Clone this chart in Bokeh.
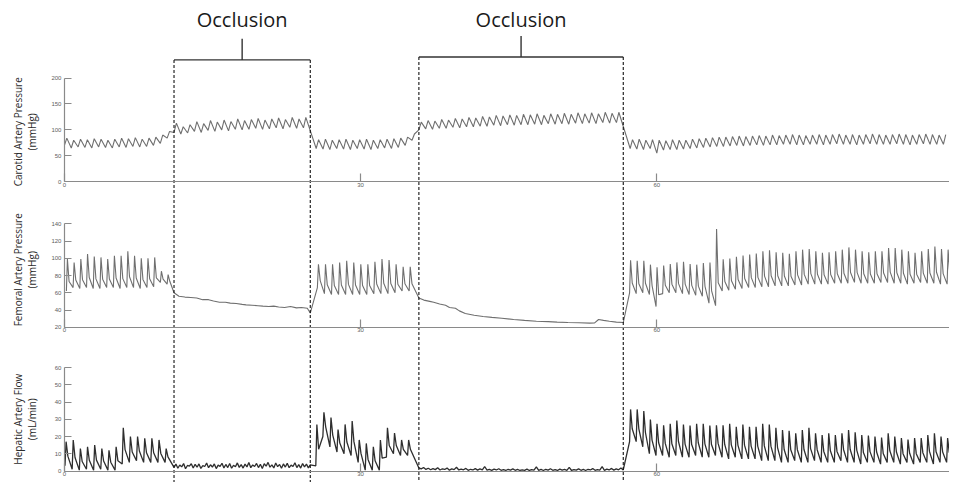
import numpy as np
from bokeh.plotting import figure
from bokeh.models import Range1d, LinearAxis, FixedTicker
from bokeh.core.properties import value
from bokeh.embed import file_html
from bokeh.resources import INLINE

# ---------------- data ----------------
occl_start = [11.1, 35.9]
occl_end = [24.9, 56.6]
occl_text = ["Occlusion", "Occlusion"]

x_ticks = [0, 30, 60, 90]
car_ticks = [0, 50, 100, 150, 200]
fem_ticks = [20, 40, 60, 80, 100, 120, 140]
hep_ticks = [0, 10, 20, 30, 40, 50, 60]

titles = ["Carotid Artery Pressure\n(mmHg)",
          "Femoral Artery Pressure\n(mmHg)",
          "Hepatic Artery Flow\n(mL/min)"]

# Carotid artery pressure (mmHg): beat peaks / troughs per segment
car_pre_span = (0.0, 11.1)
car_pre_peaks = [84, 80, 82, 81, 83, 82, 80, 82, 84, 83, 85, 82, 84, 86, 90, 97]
car_pre_troughs = [70, 65, 67, 66, 65, 67, 66, 65, 67, 66, 68, 67, 68, 70, 74, 84]
car_occ1_span = (11.1, 24.9)
car_occ1_peaks = [113, 106, 110, 116, 112, 118, 115, 119, 116, 121, 118, 120, 122, 119, 121, 123, 120, 124, 121, 124]
car_occ1_troughs = [95, 92, 94, 97, 95, 99, 97, 100, 98, 101, 100, 101, 103, 101, 102, 104, 102, 105, 103, 104]
car_mid_span = (25.5, 35.9)
car_mid_peaks = [81, 82, 80, 81, 82, 80, 81, 82, 80, 81, 82, 83, 84, 86, 92]
car_mid_troughs = [64, 63, 62, 64, 63, 62, 64, 63, 62, 64, 65, 64, 66, 70, 80]
car_occ2_span = (35.9, 56.6)
car_occ2_peaks = [115, 118, 117, 120, 119, 122, 121, 124, 123, 126, 125, 128, 127, 129, 128,
                  130, 129, 131, 128, 131, 130, 132, 130, 133, 131, 133, 131, 134, 132, 134]
car_occ2_troughs = [100, 102, 101, 103, 103, 105, 104, 106, 106, 107, 107, 109, 108, 110, 109,
                    110, 110, 111, 110, 112, 111, 112, 111, 113, 112, 113, 112, 114, 113, 114]
car_post_span = (57.3, 89.7)
car_post_peaks = [81, 82, 80, 81, 80, 79, 81, 80, 80, 82, 83, 84, 85, 86, 86, 87, 88, 87, 88, 89,
                  88, 90, 89, 90, 91, 90, 89, 90, 91, 90, 91, 92, 90, 91, 90, 91, 92, 91, 90, 91,
                  92, 91, 90, 91, 92, 91, 90, 91]
car_post_troughs = [64, 63, 62, 64, 55, 61, 62, 62, 63, 64, 65, 66, 67, 68, 68, 69, 70, 69, 70, 71,
                    70, 71, 71, 72, 72, 71, 71, 72, 72, 71, 72, 73, 72, 72, 71, 72, 73, 72, 72, 72,
                    73, 72, 71, 72, 73, 72, 72, 72]

# Femoral artery pressure (mmHg)
fem_pre_span = (0.2, 11.08)
fem_pre_peaks = [99, 95, 99, 105, 102, 101, 99, 103, 103, 108, 103, 100, 100, 101, 85, 81]
fem_pre_troughs = [62, 66, 65, 66, 65, 65, 66, 66, 65, 66, 66, 65, 66, 67, 72, 70]
fem_occ1_t = [11.1, 11.6, 12.2, 12.8, 13.4, 14.0, 14.6, 15.1, 15.7, 16.3, 16.8, 17.4, 18.0,
              18.4, 19.0, 19.6, 20.1, 20.7, 21.2, 21.7, 22.3, 22.9, 23.5, 24.0, 24.6, 24.9]
fem_occ1_v = [60, 56, 55, 54.5, 54, 52, 52, 50.5, 49, 49, 48, 47.5, 46.5,
              46, 45.5, 45, 44.5, 44, 44.5, 43.5, 43, 44, 42.5, 43, 42, 36.5]
fem_mid_span = (25.62, 35.63)
fem_mid_peaks = [93, 93, 93, 95, 97, 95, 93, 93, 96, 99, 98, 93, 90, 90]
fem_mid_troughs = [66, 59, 58, 58, 58, 58, 58, 58, 59, 59, 59, 60, 62, 62]
fem_occ2_t = [35.9, 36.4, 37.0, 37.4, 38.0, 38.6, 39.0, 39.6, 40.0, 40.6, 41.5, 42.4, 43.3, 44.3,
              45.5, 46.6, 47.8, 49.0, 49.9, 51.0, 52.1, 53.2, 53.7, 54.1, 54.6, 55.2, 55.9, 56.6]
fem_occ2_v = [54, 51.5, 50, 48.9, 47, 45.5, 43, 42, 39, 36, 34, 32.5, 31.5, 30.5,
              29, 28, 27, 26.5, 26, 25.5, 25.2, 24.8, 25, 29, 28, 27, 26, 25.5]
fem_post_span = (57.24, 90.07)
fem_post_peaks = [97.8, 97.0, 97.0, 92.6, 89.6, 91.5, 93.3, 95.2, 95.9, 93.3, 92.6, 94.4, 95.2,
                  134.0, 98.9, 99.6, 101.8, 103.3, 104.4, 105.6, 108.1, 109.2, 107.0, 106.3,
                  105.2, 108.1, 110.0, 110.7, 108.1, 106.3, 107.0, 108.1, 110.0, 112.6, 110.0,
                  108.1, 107.0, 108.1, 108.1, 111.9, 111.9, 110.0, 108.1, 106.3, 108.1, 110.7,
                  113.7, 110.7, 110.0]
fem_post_troughs = [60, 59, 60, 58, 44, 59, 60, 60, 59, 58, 57, 56, 48, 45, 62, 63, 64, 65, 66, 66,
                    67, 67, 68, 68, 68, 69, 69, 70, 70, 70, 70, 71, 71, 71, 72, 71, 71, 71, 72, 72,
                    71, 71, 70, 71, 72, 71, 71, 70, 70]

# Hepatic artery flow (mL/min)
hep_pre_span = (0.06, 10.92)
hep_pre_peaks = [17, 18, 13, 14, 15, 13, 12, 14, 25, 20, 20, 19, 19, 18, 13]
hep_pre_troughs = [3, 1, 0.5, 1, 0.5, 1, 0.5, 0.5, 4, 5, 6, 5, 5, 5, 5]
hep_occ1_span = (11.1, 24.9)
hep_occ1_v = [2.1, 4.0, 1.6, 3.5, 2.4, 4.3, 1.3, 3.2, 2.8, 4.2, 1.7, 3.9, 2.2, 4.1, 1.5, 3.1, 2.6,
              4.6, 1.9, 3.6, 2.3, 4.1, 1.4, 3.4, 2.7, 4.5, 1.8, 3.8, 2.0, 4.3, 1.6, 3.3, 2.5, 4.7,
              2.1, 3.7, 1.7, 4.0, 2.4, 4.9, 1.9, 3.5, 2.6, 4.4, 2.0, 3.9, 1.5, 4.2, 2.8, 5.0, 2.2,
              3.6, 1.8, 4.6, 2.5, 3.8, 1.6, 4.1, 2.3, 4.5, 1.9, 3.4, 2.6, 4.8, 2.0, 3.7, 1.7, 4.3,
              2.4, 4.0, 1.8, 3.6]
hep_mid_span = (25.46, 35.47)
hep_mid_peaks = [27, 34, 31, 24, 27, 29, 18, 16, 14, 18, 25, 22, 18, 18]
hep_mid_troughs = [3, 20, 14, 11, 10, 9, 5, 0.5, 0.5, 0.5, 8, 10, 9, 9]
hep_occ2_span = (35.9, 56.6)
hep_occ2_v = [1.8, 1.2, 2.0, 0.9, 1.6, 0.7, 1.4, 0.8, 1.9, 0.6, 1.3, 0.9, 1.7, 0.5, 1.2, 0.8, 2.2,
              0.6, 1.1, 0.7, 1.5, 0.4, 1.0, 0.6, 1.4, 0.5, 1.2, 0.7, 2.6, 0.5, 0.9, 0.4, 1.1, 0.6,
              1.3, 0.4, 0.8, 0.3, 1.0, 0.5, 1.2, 0.4, 0.9, 0.3, 0.7, 0.4, 1.1, 0.3, 0.8, 0.5, 2.4,
              0.4, 0.9, 0.3, 1.0, 0.5, 1.3, 0.4, 0.8, 0.3, 1.1, 0.5, 0.9, 0.4, 2.1, 0.3, 0.8, 0.5,
              1.2, 0.4, 0.9, 0.3, 1.0, 0.6, 1.4, 0.4, 0.8, 0.5, 2.5, 0.4, 1.1, 0.6, 1.5, 0.5, 1.2,
              0.7, 1.8, 0.6]
hep_post_span = (57.24, 90.02)
hep_post_peaks = [35.7, 35.7, 34.8, 29.8, 27.4, 26.5, 27.4, 29.3, 27.0, 26.3, 27.4, 27.4, 26.3,
                  26.5, 26.5, 27.4, 25.6, 27.0, 25.6, 25.6, 27.4, 27.0, 25.0, 23.7, 23.3, 21.9,
                  23.7, 25.0, 21.9, 20.9, 21.9, 20.9, 21.9, 23.7, 22.4, 20.9, 20.6, 20.0, 19.4,
                  21.9, 20.0, 19.1, 18.2, 19.1, 19.1, 20.9, 21.9, 20.0, 19.1]
hep_post_troughs = [17, 17, 14, 10, 9, 9, 8, 9, 8, 8, 9, 8, 8, 9, 8, 7, 8, 7, 7, 7, 6, 6, 6, 5, 5,
                    6, 5, 5, 6, 5, 5, 5, 6, 5, 5, 4, 5, 5, 4, 5, 5, 4, 5, 4, 5, 5, 4, 5, 5]

# ---------------- layout (reference pixel geometry) ----------------
REF_W = 965
PAGE_H = 503          # page units shown over the figure height (reference pixels + room for labels)
W, H = 949, 482
X0_PX, PX_PER_S = 65.0, 10.04

CAR_SHAPE = (0.35,)
FEM_SHAPE = (0.15, 0.40, 0.30)
HEP_SHAPE = (0.15, 0.40, 0.40)


def beats(span, troughs, peaks, shape):
    """Place one trough/peak pair per heart beat along a segment."""
    n = len(peaks)
    period = (span[1] - span[0]) / n
    starts = np.linspace(span[0], span[1], n, endpoint=False)
    xs, ys = [], []
    for t, tr, pk in zip(starts, troughs, peaks):
        xs += [t, t + shape[0] * period]
        ys += [tr, pk]
        if len(shape) > 1:
            xs.append(t + shape[1] * period)
            ys.append(tr + shape[2] * (pk - tr))
    return xs, ys


def samples(span, vals):
    return list(np.linspace(span[0], span[1], len(vals))), list(vals)


def join(*parts):
    xs, ys = [], []
    for px, py in parts:
        xs += list(px)
        ys += list(py)
    return xs, ys


car_x, car_y = join(beats(car_pre_span, car_pre_troughs, car_pre_peaks, CAR_SHAPE),
                    beats(car_occ1_span, car_occ1_troughs, car_occ1_peaks, CAR_SHAPE),
                    beats(car_mid_span, car_mid_troughs, car_mid_peaks, CAR_SHAPE),
                    beats(car_occ2_span, car_occ2_troughs, car_occ2_peaks, CAR_SHAPE),
                    beats(car_post_span, car_post_troughs, car_post_peaks, CAR_SHAPE))
fem_x, fem_y = join(beats(fem_pre_span, fem_pre_troughs, fem_pre_peaks, FEM_SHAPE),
                    (fem_occ1_t, fem_occ1_v),
                    beats(fem_mid_span, fem_mid_troughs, fem_mid_peaks, FEM_SHAPE),
                    (fem_occ2_t, fem_occ2_v),
                    beats(fem_post_span, fem_post_troughs, fem_post_peaks, FEM_SHAPE))
hep_x, hep_y = join(beats(hep_pre_span, hep_pre_troughs, hep_pre_peaks, HEP_SHAPE),
                    samples(hep_occ1_span, hep_occ1_v),
                    beats(hep_mid_span, hep_mid_troughs, hep_mid_peaks, HEP_SHAPE),
                    samples(hep_occ2_span, hep_occ2_v),
                    beats(hep_post_span, hep_post_troughs, hep_post_peaks, HEP_SHAPE))


def panel_range(v_lo, px_lo, v_hi, px_hi):
    upp = (v_hi - v_lo) / (px_lo - px_hi)
    return Range1d(start=v_lo - (PAGE_H - px_lo) * upp, end=v_hi + px_hi * upp)


x_end = (REF_W - X0_PX) / PX_PER_S
p = figure(width=W, height=H, output_backend="svg", toolbar_location=None,
           x_range=Range1d(-X0_PX / PX_PER_S, x_end),
           y_range=Range1d(PAGE_H, 0),       # page units (reference pixels, top = 0)
           x_axis_type=None, y_axis_type=None,
           min_border=0, min_border_left=0, min_border_right=0,
           min_border_top=0, min_border_bottom=0)
p.outline_line_color = None
p.xgrid.visible = False
p.ygrid.visible = False
p.background_fill_color = "white"
p.border_fill_color = "white"

p.extra_y_ranges = {
    "car": panel_range(0, 189, 200, 81),
    "fem": panel_range(20, 341, 140, 233),
    "hep": panel_range(0, 491, 60, 383),
}

AX_COLOR = "#8a8a8a"
for name, lo, hi, ticks in [("car", 0, 200, car_ticks),
                            ("fem", 20, 140, fem_ticks),
                            ("hep", 0, 60, hep_ticks)]:
    yax = LinearAxis(y_range_name=name, fixed_location=0, bounds=(lo, hi),
                     ticker=FixedTicker(ticks=ticks))
    xax = LinearAxis(y_range_name=name, fixed_location=lo, bounds=(0, x_end),
                     ticker=FixedTicker(ticks=x_ticks))
    for ax, tick_len, standoff in ((yax, 7, 3), (xax, 8, 1)):
        ax.axis_line_color = AX_COLOR
        ax.axis_line_width = 1.2
        ax.major_tick_line_color = AX_COLOR
        ax.major_tick_line_width = 1.2
        ax.major_tick_in = tick_len
        ax.major_tick_out = 0
        ax.minor_tick_in = 0
        ax.minor_tick_out = 0
        ax.major_label_text_font = "Liberation Sans"
        ax.major_label_text_font_size = "6px"
        ax.major_label_text_color = "#606060"
        ax.major_label_standoff = standoff
    p.add_layout(yax, "left")
    p.add_layout(xax, "below")

# traces
p.line(car_x, car_y, y_range_name="car", line_color="#6f6f6f", line_width=1.1)
p.line(fem_x, fem_y, y_range_name="fem", line_color="#6f6f6f", line_width=1.1)
p.line(hep_x, hep_y, y_range_name="hep", line_color="#2e2e2e", line_width=1.3)

# occlusion brackets and dashed markers (page units for vertical placement)
bracket_y = [62, 59]
tick_top = [40, 37]
label_y = [20, 20]
centers = [(a + b) / 2 for a, b in zip(occl_start, occl_end)]
p.segment(x0=occl_start, y0=bracket_y, x1=occl_end, y1=bracket_y,
          line_color="#333333", line_width=1.4)
p.segment(x0=centers, y0=tick_top, x1=centers, y1=bracket_y,
          line_color="#333333", line_width=1.4)
p.segment(x0=occl_start + occl_end, y0=bracket_y + bracket_y,
          x1=occl_start + occl_end, y1=[PAGE_H] * 4,
          line_color="#111111", line_width=1.1, line_dash="3 2")
p.text(x=centers, y=label_y, text=occl_text, text_font=value("Open Sans"),
       text_font_size="20px", text_align="center", text_baseline="middle",
       text_color="#1a1a1a")

# rotated panel titles
p.text(x=[-4.0] * 3, y=[137, 281, 437], text=titles, angle=np.pi / 2,
       text_font=value("Open Sans"), text_font_size="10px",
       text_line_height=1.05, text_align="center", text_baseline="middle",
       text_color="#2a2a2a")

open("out.html", "w").write(file_html(p, INLINE))
